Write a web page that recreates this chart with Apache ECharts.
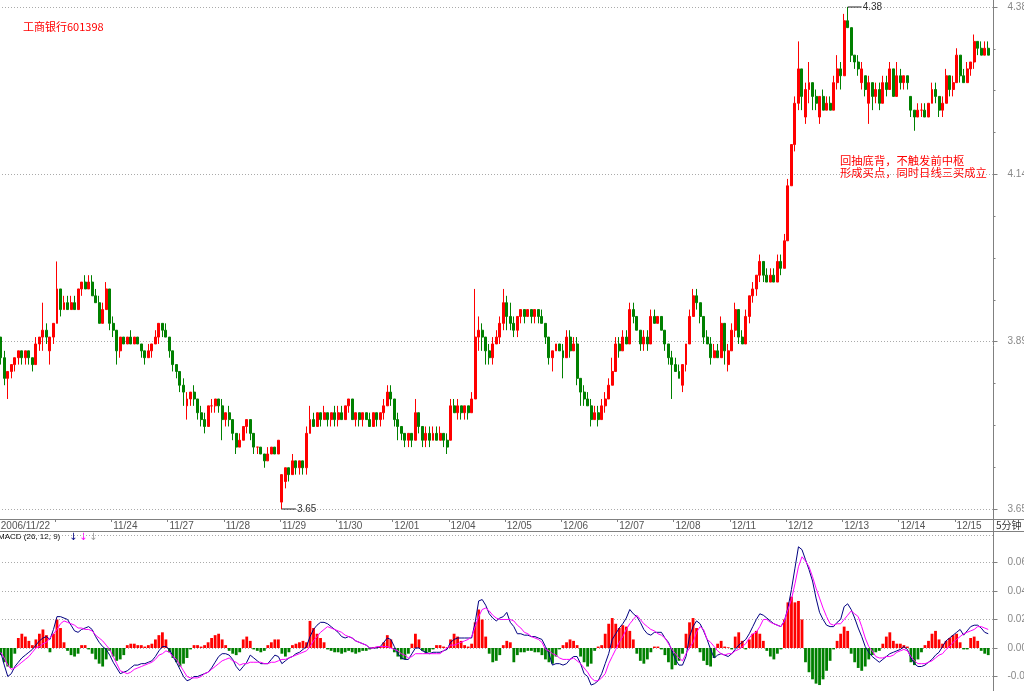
<!DOCTYPE html>
<html>
<head>
<meta charset="utf-8" />
<title>工商银行601398 5分钟</title>
<style>
  html, body { margin: 0; padding: 0; background: #fff; }
  #main { width: 1024px; height: 691px; }
</style>
</head>
<body>
<div id="main"></div>
<script src="https://cdn.jsdelivr.net/npm/echarts@6/dist/echarts.min.js"></script>
<script>
// 交易日, 每天 16 根K线 (12/15 只到 10 根)
var days = ['2006/11/22', '11/23', '11/24', '11/27', '11/28', '11/29', '11/30', '12/01', '12/04',
            '12/05', '12/06', '12/07', '12/08', '12/11', '12/12', '12/13', '12/14', '12/15'];
var perDay = 16;

var opens = [
  3.90,3.87,3.84,3.85,3.86,3.87,3.88,3.87,3.88,3.87,3.86,3.89,3.90,3.91,3.88,3.90,
  3.92,3.97,3.94,3.95,3.94,3.95,3.94,3.97,3.98,3.97,3.98,3.96,3.95,3.92,3.94,3.97,
  3.92,3.91,3.88,3.90,3.89,3.90,3.89,3.90,3.89,3.88,3.87,3.88,3.89,3.90,3.92,3.91,
  3.90,3.88,3.86,3.85,3.83,3.80,3.81,3.82,3.81,3.79,3.78,3.77,3.80,3.80,3.81,3.80,
  3.78,3.79,3.78,3.76,3.74,3.75,3.77,3.78,3.76,3.74,3.74,3.73,3.72,3.73,3.74,3.73,
  3.66,3.69,3.71,3.70,3.72,3.71,3.72,3.71,3.76,3.78,3.77,3.79,3.78,3.79,3.78,3.79,
  3.78,3.79,3.78,3.80,3.81,3.78,3.79,3.78,3.79,3.78,3.77,3.79,3.78,3.79,3.80,3.82,
  3.81,3.78,3.77,3.76,3.75,3.76,3.75,3.79,3.77,3.75,3.76,3.75,3.76,3.75,3.76,3.75,
  3.75,3.80,3.79,3.80,3.79,3.80,3.79,3.81,3.90,3.91,3.90,3.88,3.87,3.89,3.90,3.92,
  3.95,3.93,3.92,3.91,3.93,3.94,3.93,3.94,3.93,3.94,3.93,3.92,3.90,3.87,3.88,3.89,
  3.88,3.87,3.90,3.88,3.89,3.84,3.82,3.81,3.80,3.78,3.79,3.78,3.80,3.81,3.83,3.85,
  3.89,3.88,3.90,3.89,3.94,3.93,3.91,3.89,3.90,3.89,3.93,3.92,3.93,3.91,3.89,3.87,
  3.86,3.85,3.83,3.86,3.89,3.93,3.96,3.95,3.93,3.90,3.89,3.87,3.88,3.87,3.92,3.86,
  3.88,3.91,3.94,3.90,3.89,3.93,3.96,3.97,3.99,4.01,3.99,3.98,3.99,3.98,4.01,4.00,
  4.04,4.12,4.18,4.24,4.29,4.22,4.26,4.27,4.25,4.22,4.25,4.23,4.24,4.23,4.27,4.29,
  4.28,4.36,4.35,4.31,4.30,4.27,4.28,4.24,4.27,4.25,4.26,4.24,4.27,4.26,4.29,4.25,
  4.28,4.27,4.28,4.25,4.23,4.22,4.23,4.23,4.22,4.24,4.26,4.25,4.23,4.24,4.28,4.26,
  4.27,4.31,4.28,4.27,4.29,4.30,4.33,4.32,4.31,4.32
];
var closes = [
  3.87,3.84,3.85,3.86,3.87,3.88,3.87,3.88,3.87,3.86,3.89,3.90,3.91,3.90,3.90,3.92,
  3.97,3.94,3.95,3.94,3.95,3.94,3.97,3.98,3.97,3.98,3.96,3.95,3.92,3.94,3.97,3.92,
  3.91,3.88,3.90,3.89,3.90,3.89,3.90,3.89,3.88,3.87,3.88,3.89,3.90,3.92,3.91,3.90,
  3.88,3.86,3.85,3.83,3.82,3.81,3.82,3.81,3.79,3.78,3.77,3.80,3.80,3.81,3.80,3.78,
  3.79,3.78,3.76,3.74,3.75,3.77,3.78,3.76,3.74,3.74,3.73,3.72,3.73,3.74,3.73,3.75,
  3.70,3.71,3.70,3.72,3.71,3.72,3.71,3.76,3.78,3.77,3.79,3.78,3.79,3.78,3.79,3.78,
  3.79,3.78,3.80,3.81,3.78,3.79,3.78,3.79,3.78,3.77,3.79,3.78,3.79,3.80,3.82,3.81,
  3.78,3.77,3.76,3.75,3.76,3.75,3.79,3.77,3.75,3.76,3.75,3.76,3.75,3.76,3.75,3.74,
  3.80,3.79,3.80,3.79,3.80,3.79,3.81,3.90,3.91,3.90,3.88,3.87,3.89,3.90,3.92,3.95,
  3.93,3.92,3.91,3.93,3.94,3.93,3.94,3.93,3.94,3.93,3.92,3.90,3.87,3.88,3.89,3.88,
  3.87,3.90,3.88,3.89,3.84,3.82,3.81,3.80,3.78,3.79,3.78,3.80,3.81,3.83,3.85,3.89,
  3.88,3.90,3.89,3.94,3.93,3.91,3.89,3.90,3.89,3.93,3.92,3.93,3.91,3.89,3.87,3.86,
  3.85,3.84,3.86,3.89,3.93,3.96,3.95,3.93,3.90,3.89,3.87,3.88,3.87,3.92,3.88,3.88,
  3.91,3.94,3.90,3.89,3.93,3.96,3.97,3.99,4.01,3.99,3.98,3.99,3.98,4.01,4.00,4.04,
  4.12,4.18,4.24,4.29,4.25,4.26,4.27,4.25,4.24,4.25,4.23,4.24,4.23,4.27,4.29,4.28,
  4.36,4.35,4.31,4.30,4.29,4.29,4.26,4.27,4.25,4.26,4.24,4.27,4.26,4.29,4.25,4.28,
  4.27,4.28,4.27,4.23,4.22,4.23,4.23,4.22,4.24,4.26,4.25,4.23,4.24,4.28,4.26,4.27,
  4.31,4.28,4.27,4.29,4.30,4.33,4.32,4.31,4.32,4.31
];
var highs = [
  3.90,3.88,3.85,3.86,3.87,3.88,3.88,3.88,3.88,3.87,3.90,3.90,3.95,3.92,3.90,3.92,
  4.01,3.97,3.96,3.96,3.96,3.96,3.97,3.98,3.99,3.99,3.99,3.97,3.96,3.95,3.98,3.97,
  3.93,3.91,3.90,3.90,3.90,3.91,3.90,3.90,3.89,3.88,3.89,3.89,3.91,3.92,3.92,3.92,
  3.90,3.88,3.86,3.85,3.84,3.82,3.82,3.83,3.81,3.80,3.79,3.80,3.81,3.81,3.81,3.81,
  3.79,3.80,3.78,3.76,3.76,3.77,3.78,3.78,3.76,3.74,3.74,3.73,3.74,3.74,3.74,3.75,
  3.70,3.71,3.71,3.73,3.72,3.72,3.72,3.77,3.80,3.79,3.79,3.79,3.80,3.79,3.79,3.80,
  3.80,3.80,3.80,3.81,3.81,3.79,3.79,3.79,3.79,3.79,3.79,3.79,3.79,3.81,3.83,3.83,
  3.81,3.79,3.77,3.76,3.76,3.76,3.81,3.79,3.77,3.77,3.77,3.77,3.77,3.77,3.76,3.76,
  3.81,3.81,3.81,3.80,3.80,3.80,3.82,3.97,3.93,3.92,3.90,3.89,3.90,3.91,3.93,3.97,
  3.96,3.95,3.93,3.93,3.94,3.94,3.94,3.94,3.94,3.94,3.94,3.92,3.90,3.88,3.89,3.89,
  3.89,3.91,3.91,3.90,3.90,3.84,3.83,3.82,3.81,3.80,3.80,3.81,3.82,3.84,3.87,3.90,
  3.90,3.91,3.91,3.95,3.95,3.93,3.91,3.91,3.91,3.94,3.94,3.93,3.93,3.91,3.89,3.88,
  3.87,3.86,3.86,3.89,3.94,3.97,3.97,3.95,3.93,3.91,3.90,3.89,3.89,3.93,3.92,3.89,
  3.92,3.95,3.94,3.91,3.94,3.96,3.98,3.99,4.02,4.01,4.00,4.00,4.00,4.02,4.02,4.05,
  4.13,4.18,4.25,4.33,4.29,4.27,4.30,4.27,4.26,4.25,4.26,4.25,4.25,4.28,4.31,4.30,
  4.37,4.38,4.35,4.31,4.31,4.30,4.28,4.28,4.27,4.27,4.27,4.28,4.28,4.30,4.29,4.30,
  4.29,4.28,4.28,4.25,4.23,4.24,4.24,4.24,4.24,4.27,4.27,4.25,4.25,4.29,4.28,4.28,
  4.32,4.31,4.29,4.30,4.30,4.34,4.33,4.33,4.33,4.33
];
var lows = [
  3.86,3.83,3.81,3.84,3.85,3.86,3.86,3.86,3.86,3.85,3.86,3.88,3.88,3.89,3.86,3.89,
  3.92,3.93,3.94,3.94,3.94,3.94,3.94,3.96,3.97,3.97,3.96,3.95,3.92,3.92,3.94,3.91,
  3.90,3.86,3.87,3.89,3.89,3.89,3.89,3.89,3.87,3.86,3.87,3.87,3.89,3.89,3.90,3.90,
  3.87,3.85,3.84,3.82,3.80,3.78,3.80,3.80,3.78,3.77,3.76,3.77,3.79,3.79,3.79,3.75,
  3.77,3.77,3.75,3.73,3.74,3.75,3.76,3.75,3.73,3.73,3.73,3.71,3.72,3.73,3.73,3.73,
  3.65,3.68,3.69,3.70,3.70,3.70,3.70,3.70,3.76,3.77,3.77,3.77,3.78,3.77,3.77,3.77,
  3.77,3.78,3.78,3.79,3.78,3.77,3.77,3.77,3.78,3.77,3.77,3.77,3.77,3.78,3.80,3.80,
  3.77,3.75,3.75,3.74,3.74,3.74,3.75,3.76,3.74,3.74,3.74,3.75,3.75,3.75,3.74,3.73,
  3.75,3.79,3.78,3.78,3.78,3.78,3.79,3.81,3.88,3.88,3.86,3.86,3.86,3.89,3.89,3.91,
  3.91,3.91,3.90,3.90,3.92,3.92,3.93,3.92,3.92,3.92,3.92,3.89,3.86,3.85,3.88,3.88,
  3.84,3.87,3.87,3.88,3.83,3.80,3.80,3.80,3.77,3.78,3.77,3.78,3.79,3.81,3.83,3.85,
  3.87,3.88,3.89,3.89,3.92,3.91,3.88,3.88,3.88,3.89,3.92,3.92,3.91,3.88,3.86,3.81,
  3.85,3.84,3.82,3.85,3.89,3.93,3.94,3.92,3.89,3.89,3.86,3.87,3.87,3.87,3.86,3.85,
  3.88,3.90,3.89,3.89,3.89,3.92,3.95,3.96,3.98,3.98,3.98,3.98,3.98,3.98,3.99,4.00,
  4.04,4.12,4.17,4.23,4.23,4.21,4.24,4.23,4.23,4.21,4.23,4.23,4.23,4.23,4.26,4.26,
  4.28,4.35,4.30,4.29,4.28,4.26,4.25,4.21,4.23,4.24,4.23,4.24,4.25,4.26,4.25,4.25,
  4.26,4.26,4.26,4.22,4.20,4.22,4.22,4.22,4.22,4.24,4.24,4.22,4.22,4.24,4.25,4.25,
  4.27,4.27,4.27,4.27,4.28,4.29,4.31,4.31,4.31,4.31
];

// MACD(26,12,9), 单位 0.001
var dif = [
  -3,-12,-20,-18,-13,-10,-7,-5,-3,-1,2,5,7,8,6,13,
  22,22,21,20,16,12,11,13,14,15,13,8,4,1,-1,-5,
  -10,-14,-18,-17,-16,-14,-12,-12,-11,-11,-10,-9,-6,-2,1,1,
  -1,-6,-10,-15,-20,-23,-22,-20,-20,-19,-18,-17,-14,-10,-6,-4,
  -4,-5,-8,-13,-16,-13,-10,-5,-7,-9,-11,-11,-11,-8,-5,-6,
  -11,-9,-7,-6,-4,-3,-1,1,8,13,16,18,18,17,15,13,
  11,8,7,8,7,5,4,3,2,0,0,0,1,4,7,6,
  1,-4,-7,-8,-8,-4,0,0,-2,-3,-4,-3,-3,-3,-2,-1,
  4,6,7,7,7,7,7,18,33,34,30,24,21,19,21,22,
  25,18,15,10,10,9,9,8,8,7,6,1,-4,-12,-11,-11,
  -12,-11,-8,-6,-6,-11,-18,-20,-26,-25,-23,-18,-11,-4,6,10,
  14,17,21,27,24,22,18,13,10,9,11,11,11,7,4,-2,
  -8,-12,-12,-6,8,15,19,17,12,6,-1,-7,-5,-4,-5,-6,
  -4,-1,2,4,6,10,15,20,24,23,21,19,17,16,15,19,
  28,41,56,71,69,62,55,47,35,25,20,16,15,15,18,20,
  29,31,27,21,14,8,1,-3,-6,-8,-10,-8,-6,-4,-3,-2,
  -1,1,-1,-7,-11,-13,-13,-12,-10,-8,-5,-3,1,5,7,9,
  11,13,9,12,15,16,16,14,11,10
];
var dea = [
  -3,-7,-12,-15,-14,-12,-10,-8,-6,-3,0,1,3,4,7,10,
  13,17,19,18,17,16,14,14,13,13,12,9,7,5,2,-1,
  -6,-11,-16,-17,-18,-17,-15,-14,-13,-12,-11,-10,-8,-5,-4,-2,
  -3,-6,-8,-12,-16,-20,-21,-21,-21,-20,-18,-17,-15,-13,-11,-9,
  -8,-7,-9,-10,-12,-11,-11,-10,-10,-10,-10,-11,-11,-10,-10,-9,
  -8,-8,-7,-6,-5,-4,-3,-2,1,5,8,11,13,15,14,13,
  12,11,9,8,7,5,4,3,2,0,0,1,1,1,1,0,
  -1,-2,-4,-5,-7,-6,-4,-4,-4,-4,-4,-4,-4,-4,-2,0,
  2,2,3,4,5,6,8,15,22,27,28,26,23,21,20,20,
  20,20,19,16,14,11,10,8,7,6,4,-1,-2,-4,-5,-7,
  -8,-8,-8,-7,-9,-11,-14,-17,-21,-23,-23,-21,-18,-11,-6,-1,
  4,8,13,17,20,23,20,17,15,13,12,10,9,7,3,-1,
  -4,-7,-9,-4,0,4,11,15,13,6,4,1,-2,-4,-5,-4,
  -4,-2,-1,1,3,7,10,11,15,20,20,18,17,16,15,19,
  27,34,45,57,64,61,57,50,42,35,28,22,17,16,17,17,
  20,23,26,24,22,15,7,1,-2,-6,-7,-7,-6,-6,-5,-3,
  -2,-1,-2,-6,-9,-11,-11,-11,-10,-9,-7,-5,-4,-1,1,4,
  6,8,10,11,12,13,15,15,14,13
];
var macdBar = [
  -5,-10,-13,-14,-4,7,10,8,5,2,6,10,13,9,-3,10,
  20,14,4,-2,-5,-6,-4,2,2,-1,-4,-8,-11,-13,-8,-2,
  -6,-9,-8,-5,2,3,3,2,2,1,2,3,6,9,11,6,
  -3,-7,-10,-13,-11,-7,-1,2,2,1,2,4,7,9,10,6,
  2,-2,-4,-5,-3,6,8,5,-1,-2,-3,-2,2,4,6,6,
  -4,-6,-3,2,3,4,5,4,19,14,10,7,4,-1,-2,-3,
  -3,-4,-3,-2,-3,-4,-3,-2,-2,-1,0.5,0.5,1,4,9,6,
  -3,-6,-8,-8,-4,3,10,6,-2,-4,-3,-1,2,2,1,0.5,
  6,10,8,5,2,1,3,18,27,20,8,-4,-10,-9,-5,2,
  5,4,-10,-5,-3,-3,-2,-2,-3,-3,-5,-8,-10,-11,-6,-1,
  2,4,6,5,2,-6,-10,-13,-11,-2,1,2,10,17,21,17,
  14,16,15,12,6,-4,-9,-11,-8,-3,1,1,-1,-5,-10,-15,
  -12,-9,-4,10,18,21,14,-3,-9,-12,-13,-7,3,5,1,0.5,
  -1,8,11,5,-1,6,10,12,10,5,-2,-6,-8,-4,-1,20,
  32,36,32,33,20,-10,-17,-22,-25,-26,-22,-16,-9,-1,5,10,
  15,12,-4,-10,-14,-16,-13,-8,-5,-3,-2,3,8,11,5,3,
  3,2,1,-10,-12,-8,-3,2,5,10,12,6,3,5,7,9,
  10,4,-1,-1,7,8,5,-2,-4,-5
];

var nBars = opens.length;
// 类目多留一格空位, 让最后一根K线离右侧坐标轴有点距离
var cats = [];
for (var i = 0; i <= nBars; i++) {
  cats.push(days[Math.min(days.length - 1, Math.floor(i / perDay))] + '#' + i);
}
var kData = opens.map(function(o, i) { return [o, closes[i], lows[i], highs[i]]; });
var barData = macdBar.map(function(v) {
  return { value: v / 1000, itemStyle: { color: v >= 0 ? '#ff0000' : '#008000' } };
});

var gridColor = '#aaaaaa';
var axisGray = '#808080';

var myChart = echarts.init(document.getElementById('main'));
myChart.setOption({
  backgroundColor: '#fff',
  animation: false,
  textStyle: { fontFamily: 'Liberation Sans' },
  grid: [
    { left: -1, top: 7, width: 994.5, height: 502, outerBoundsMode: 'none' },
    // MACD 区底部超出画面, 和原图一样只露出 -0.02 附近
    { left: -1, top: 535.4, width: 994.5, height: 169.6, outerBoundsMode: 'none' }
  ],
  xAxis: [{
    type: 'category',
    gridIndex: 0,
    data: cats,
    boundaryGap: true,
    offset: 10,
    axisLine: { show: true, lineStyle: { color: axisGray } },
    axisTick: {
      show: true, length: 3, lineStyle: { color: axisGray },
      interval: function(idx) { return idx % perDay === 0 && idx > 0; }
    },
    axisLabel: {
      // 11/23 的标签太挤, 原图不显示
      interval: function(idx) { return idx % perDay === 0 && idx !== perDay && idx < nBars; },
      formatter: function(v) { return v.split('#')[0]; },
      align: 'left', margin: 2, fontSize: 10, color: '#555'
    },
    splitLine: { show: false }
  }, {
    type: 'category',
    gridIndex: 1,
    data: cats,
    boundaryGap: true,
    axisLine: { show: false },
    axisTick: { show: false },
    axisLabel: { show: false },
    splitLine: { show: false }
  }],
  yAxis: [{
    type: 'value',
    gridIndex: 0,
    position: 'right',
    min: 3.65,
    max: 4.38,
    interval: (4.38 - 3.65) / 3,
    axisLine: { show: false },
    axisTick: { show: true, length: 4, lineStyle: { color: axisGray } },
    minorTick: { show: true, splitNumber: 4, length: 2, lineStyle: { color: axisGray } },
    axisLabel: {
      margin: 14, fontSize: 10, color: '#888',
      formatter: function(v) { return v.toFixed(2); }
    },
    splitLine: { show: true, lineStyle: { color: gridColor, type: [1, 2] } }
  }, {
    type: 'value',
    gridIndex: 1,
    position: 'right',
    min: -0.04,
    max: 0.079,
    interval: 0.02,
    axisLine: { show: false },
    axisTick: { show: true, length: 4, lineStyle: { color: axisGray } },
    axisLabel: {
      margin: 14, fontSize: 10, color: '#888', showMaxLabel: false,
      formatter: function(v) { return v.toFixed(2); }
    },
    splitLine: { show: true, lineStyle: { color: gridColor, type: [1, 2] } }
  }],
  series: [{
    name: 'K',
    type: 'candlestick',
    xAxisIndex: 0,
    yAxisIndex: 0,
    barWidth: '70%',
    data: kData,
    itemStyle: {
      color: '#ff0000', color0: '#008000',
      borderColor: '#ff0000', borderColor0: '#008000', borderWidth: 1
    },
    markPoint: {
      symbol: 'rect',
      symbolSize: [14, 1],
      symbolOffset: [7, 0],
      itemStyle: { color: '#222' },
      label: {
        show: true, position: 'right', distance: 1,
        color: '#333', fontSize: 10,
        formatter: function(p) { return Number(p.value).toFixed(2); }
      },
      data: [
        { type: 'max', valueDim: 'highest' },
        { type: 'min', valueDim: 'lowest' }
      ]
    }
  }, {
    name: 'MACD',
    type: 'bar',
    xAxisIndex: 1,
    yAxisIndex: 1,
    barWidth: '80%',
    data: barData
  }, {
    name: 'DIF',
    type: 'line',
    xAxisIndex: 1,
    yAxisIndex: 1,
    symbol: 'none',
    lineStyle: { color: '#000080', width: 1 },
    data: dif.map(function(v) { return v / 1000; })
  }, {
    name: 'DEA',
    type: 'line',
    xAxisIndex: 1,
    yAxisIndex: 1,
    symbol: 'none',
    lineStyle: { color: '#ff00ff', width: 1 },
    data: dea.map(function(v) { return v / 1000; })
  }],
  graphic: [
    // 框线
    { type: 'line', shape: { x1: 0, y1: 519.5, x2: 1024, y2: 519.5 }, style: { stroke: axisGray, lineWidth: 1 }, z: 50 },
    { type: 'line', shape: { x1: 0, y1: 531.5, x2: 1024, y2: 531.5 }, style: { stroke: axisGray, lineWidth: 1 }, z: 50 },
    { type: 'line', shape: { x1: 993.5, y1: 0, x2: 993.5, y2: 691 }, style: { stroke: axisGray, lineWidth: 1 }, z: 50 },
    { type: 'text', left: 996, top: 520, style: { text: '5分钟', font: '10px "Noto Sans CJK SC"', fill: '#333' }, z: 50 },
    // 标题和注释
    { type: 'text', left: 23, top: 21, style: { text: '工商银行601398', font: '11px "Noto Sans CJK SC"', fill: '#ff0000' } },
    { type: 'text', left: 840, top: 155, style: { text: '回抽底背，不触发前中枢\n形成买点，同时日线三买成立', font: '11.3px "Noto Sans CJK SC"', lineHeight: 11.5, fill: '#ff0000' } },
    { type: 'text', left: -2, top: 533, style: { text: 'MACD (26, 12, 9)', font: '8px "Liberation Sans"', fill: '#000' } },
    { type: 'text', left: 69, top: 532, style: { text: '↓', font: '10px "DejaVu Sans"', fill: '#000080' } },
    { type: 'text', left: 79, top: 532, style: { text: '↓', font: '10px "DejaVu Sans"', fill: '#ff00ff' } },
    { type: 'text', left: 89, top: 532, style: { text: '↓', font: '10px "DejaVu Sans"', fill: '#999' } }
  ]
});

window.onresize = function() {
  myChart.resize();
};
</script>
</body>
</html>
